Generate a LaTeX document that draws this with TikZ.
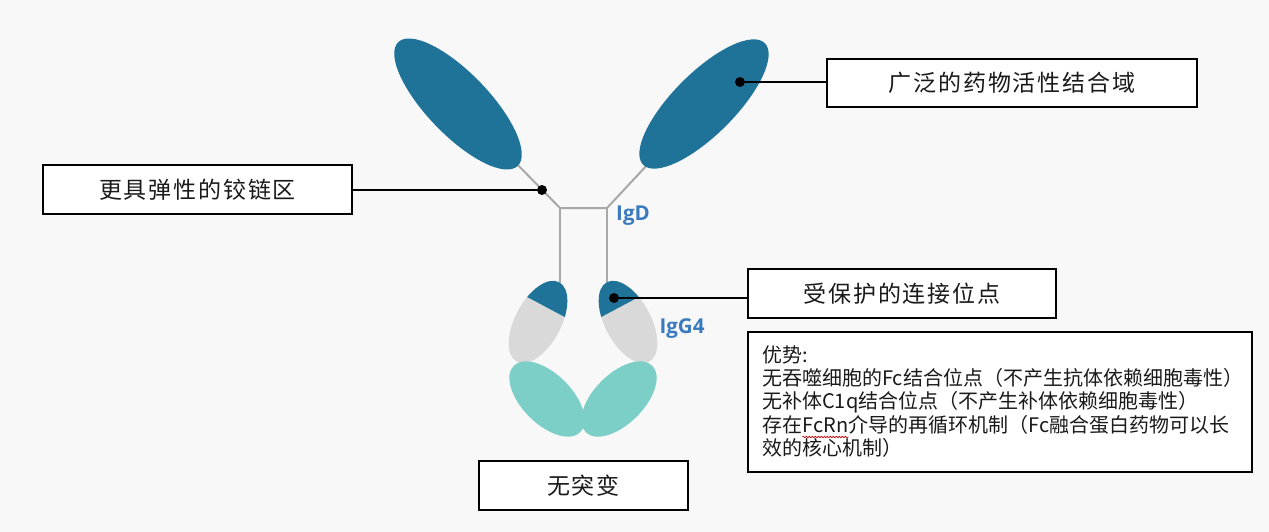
\documentclass[tikz,border=0pt]{standalone}
\usepackage{fontspec}
\usetikzlibrary{decorations.pathmorphing}
\newfontfamily\cjk{Noto Sans CJK SC}
\newfontfamily\tagsans{Open Sans}
\definecolor{domainblue}{HTML}{1F7399}
\definecolor{hingegray}{HTML}{A8A8A8}
\definecolor{chgray}{HTML}{D9D9D9}
\definecolor{fcteal}{HTML}{7BCFC6}
\definecolor{tagblue}{HTML}{3A7BBF}
\definecolor{canvasbg}{HTML}{F8F8F8}
\definecolor{inkblack}{HTML}{1A1A1A}
\tikzset{
  hinge/.style={draw=hingegray, line width=2pt},
  leader/.style={draw=black, line width=1.2pt},
  pin/.style={circle, fill=black, inner sep=0pt, minimum size=10pt},
  labelbox/.style={draw=black, line width=2pt, fill=white, text=inkblack,
    inner sep=0pt, font=\cjk\fontsize{23}{27}\selectfont\addfontfeature{LetterSpace=8}},
  noteline/.style={anchor=base west, inner sep=0pt, text=inkblack,
    font=\cjk\fontsize{20}{24}\selectfont},
  tag/.style={text=tagblue, inner sep=0pt, font=\tagsans\bfseries\fontsize{20.5}{24}\selectfont},
}
\begin{document}
\begin{tikzpicture}[x=1pt,y=-1pt]
\useasboundingbox (0,0) rectangle (1269,532);
\fill[canvasbg] (0,0) rectangle (1269,532);

% hinge and stems (drawn first, domains sit on top)
\coordinate (hl) at (560,208);
\coordinate (hr) at (607,208);
\draw[hinge] (458,104) -- (hl) -- (hr) -- (704,104);
\draw[hinge] (hl) -- (560,292);
\draw[hinge] (hr) -- (607,292);

% Fab domains
\begin{scope}[shift={(458,104)}, rotate=-46]
  \fill[domainblue] (0,0) ellipse [x radius=86pt, y radius=31pt];
\end{scope}
\begin{scope}[shift={(704,104)}, rotate=45]
  \fill[domainblue] (0,0) ellipse [x radius=86pt, y radius=31pt];
\end{scope}

% CH2 domains with protected linker caps
\begin{scope}[shift={(538,322)}, rotate=62]
  \fill[chgray] (0,0) ellipse [x radius=45pt, y radius=23pt];
  \begin{scope}
    \clip (0,0) ellipse [x radius=45pt, y radius=23pt];
    \fill[domainblue] (17pt,-30pt) rectangle (50pt,30pt);
  \end{scope}
\end{scope}
\begin{scope}[shift={(628,322)}, rotate=118]
  \fill[chgray] (0,0) ellipse [x radius=45pt, y radius=23pt];
  \begin{scope}
    \clip (0,0) ellipse [x radius=45pt, y radius=23pt];
    \fill[domainblue] (17pt,-30pt) rectangle (50pt,30pt);
  \end{scope}
\end{scope}

% CH3 domains
\begin{scope}[shift={(547,399)}, rotate=-45]
  \fill[fcteal] (0,0) ellipse [x radius=47pt, y radius=25pt];
\end{scope}
\begin{scope}[shift={(619,399)}, rotate=45]
  \fill[fcteal] (0,0) ellipse [x radius=47pt, y radius=25pt];
\end{scope}

% isotype tags
\node[tag] (igd) at (633,216) {IgD};
\node[tag] (igg) at (682,329) {IgG4};

% label boxes
\node[labelbox, minimum width=370pt, minimum height=48pt] (fab) at (1012,83) {广泛的药物活性结合域};
\node[labelbox, minimum width=309pt, minimum height=49pt] (hingebox) at (197.5,189.5) {更具弹性的铰链区};
\node[labelbox, minimum width=308pt, minimum height=49pt] (linkbox) at (902,293.5) {受保护的连接位点};
\node[labelbox, minimum width=209pt, minimum height=49pt] (mutbox) at (583.5,485.5) {无突变};
\node[draw=black, line width=2pt, fill=white, minimum width=504pt, minimum height=140pt, inner sep=0pt] (notes) at (1000,401.5) {};

% advantages text
\node[noteline] (n1) at (762,362) {优势:};
\node[noteline] (n2) at (762,385) {无吞噬细胞的Fc结合位点（不产生抗体依赖细胞毒性）};
\node[noteline] (n3) at (762,408) {无补体C1q结合位点（不产生补体依赖细胞毒性）};
\node[noteline] (n4a) at (762,432) {存在};
\node[noteline] (n4b) at (n4a.base east) {FcRn};
\node[noteline] (n4c) at (n4b.base east) {介导的再循环机制（Fc融合蛋白药物可以长};
\node[noteline] (n5) at (762,455) {效的核心机制）};
\draw[red!80!black, line width=0.6pt, decorate,
  decoration={snake, amplitude=0.8pt, segment length=3pt}]
  ([yshift=-5pt]n4b.base west) -- ([yshift=-5pt]n4b.base east);

% pins and leaders
\node[pin] (pfab) at (740,82) {};
\node[pin] (phinge) at (542,190) {};
\node[pin] (plink) at (614,298) {};
\draw[leader] (pfab) -- (pfab -| fab.west);
\draw[leader] (phinge) -- (phinge -| hingebox.east);
\draw[leader] (plink) -- (plink -| linkbox.west);
\end{tikzpicture}
\end{document}
